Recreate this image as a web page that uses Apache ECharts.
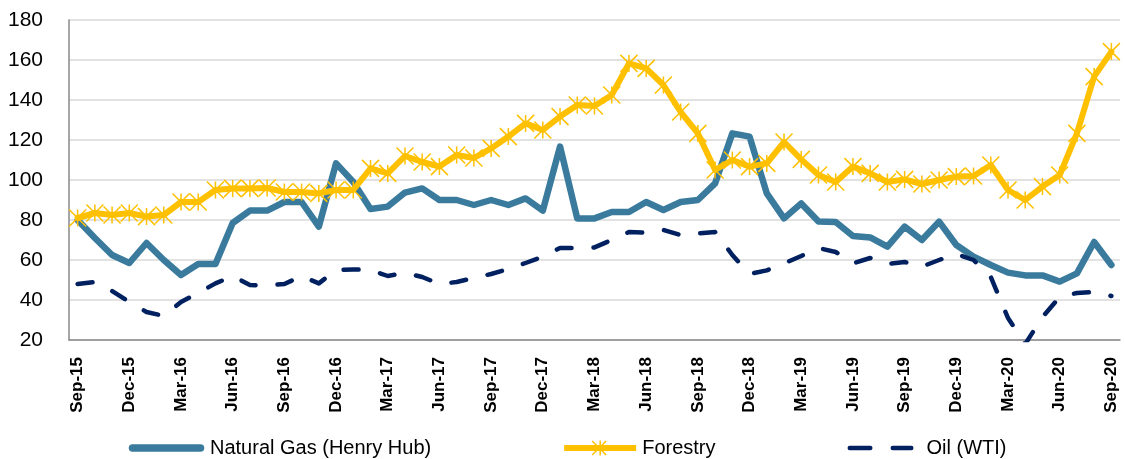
<!DOCTYPE html>
<html>
<head>
<meta charset="utf-8">
<script src="https://cdn.jsdelivr.net/npm/echarts/dist/echarts.min.js"></script>
<style>
  html, body { margin: 0; padding: 0; background: #fff; }
  #chart { width: 1125px; height: 459px; }
</style>
</head>
<body>
<div id="chart"></div>
<script>
// monthly points, Sep-15 .. Sep-20
var months = [
  'Sep-15','Oct-15','Nov-15','Dec-15','Jan-16','Feb-16','Mar-16','Apr-16','May-16','Jun-16','Jul-16','Aug-16',
  'Sep-16','Oct-16','Nov-16','Dec-16','Jan-17','Feb-17','Mar-17','Apr-17','May-17','Jun-17','Jul-17','Aug-17',
  'Sep-17','Oct-17','Nov-17','Dec-17','Jan-18','Feb-18','Mar-18','Apr-18','May-18','Jun-18','Jul-18','Aug-18',
  'Sep-18','Oct-18','Nov-18','Dec-18','Jan-19','Feb-19','Mar-19','Apr-19','May-19','Jun-19','Jul-19','Aug-19',
  'Sep-19','Oct-19','Nov-19','Dec-19','Jan-20','Feb-20','Mar-20','Apr-20','May-20','Jun-20','Jul-20','Aug-20',
  'Sep-20'
];

var naturalGas = [
  80, 71, 62.5, 58.5, 68.5, 60, 52.5, 58, 58, 78.5,
  84.7, 84.7, 89, 89, 76.7, 108.3, 99, 85.5, 86.7, 93.7,
  95.8, 90, 90, 87.5, 90, 87.5, 90.8, 84.7, 116.7, 80.8,
  80.8, 84, 84, 89, 85, 89, 90, 98.3, 123.3, 121.7,
  93.3, 80.8, 88.3, 79.2, 79, 72, 71.3, 66.7, 76.7, 70,
  79.2, 67.5, 61.7, 57.5, 53.7, 52.3, 52.3, 49.2, 53.3, 69, 57.5
];

var forestry = [
  81, 83.5, 82.5, 83.5, 81.7, 82.5, 89, 89, 95, 95.8,
  95.8, 96, 94, 94, 93.3, 95, 95, 105.8, 103.3, 112,
  109, 106.7, 112.5, 111, 115.8, 121.7, 128.3, 125, 131.7, 137.5,
  137, 142.5, 158.3, 155.8, 147.5, 134, 123.3, 105, 110, 106.7,
  108.3, 119, 110.3, 102.5, 99, 106.7, 103.3, 99, 100.3, 98,
  100, 101.7, 102, 107.5, 95, 90, 96.7, 102.5, 123.3, 151.7, 164.2
];

var oilWti = [
  48, 49, 44.5, 39, 34, 32, 39, 43.5, 48.3, 52,
  47.5, 47.3, 48, 52, 48.3, 55, 55.3, 55, 52, 53.5,
  51.5, 48, 49, 51, 53, 55.5, 58.5, 61.7, 66, 66,
  66.3, 70, 74, 73.7, 75, 72.5, 73.3, 74, 62.5, 53,
  54.8, 58.3, 62, 66, 64, 58.3, 61, 58, 59, 56.7,
  60, 63, 60, 51.5, 31, 18, 31.5, 41.5, 43.5, 44, 42
];

var seriesNames = ['Natural Gas (Henry Hub)', 'Forestry', 'Oil (WTI)'];

// asterisk marker like the Excel "*" point
var starPath = 'path://M0,0L16,16M16,0L0,16M8,0L8,16';

// legend icons, all drawn in a 77x17 box (corner anchors keep the box size)
var box = 'M0,0L0,0M77,17L77,17';
var gasIcon = 'path://' + box +
    'M4.5,4.75H72.5A3.75,3.75,0,0,1,72.5,12.25H4.5A3.75,3.75,0,0,1,4.5,4.75Z';
var forestryIcon = 'path://' + box +
    'M4,5.5H76V11.5H4Z' +
    'M39.25,1H40.75V16H39.25Z' +
    'M31.5,2L32.5,1L46.5,15L45.5,16Z' +
    'M45.5,1L46.5,2L32.5,16L31.5,15Z';
var oilIcon = 'path://' + box +
    'M5.25,6.25H25.75A2.25,2.25,0,0,1,25.75,10.75H5.25A2.25,2.25,0,0,1,5.25,6.25Z' +
    'M48.25,6.25H66.75A2.25,2.25,0,0,1,66.75,10.75H48.25A2.25,2.25,0,0,1,48.25,6.25Z';

var myChart = echarts.init(document.getElementById('chart'));
myChart.setOption({
    animation: false,
    grid: {
        left: 69,
        right: 5,
        top: 20,
        bottom: 119
    },
    legend: {
        data: [
            {name: seriesNames[0], icon: gasIcon},
            {name: seriesNames[1], icon: forestryIcon},
            {name: seriesNames[2], icon: oilIcon}
        ],
        left: 123,
        top: 433,
        itemGap: 129,
        itemWidth: 77,
        itemHeight: 17,
        itemStyle: {borderWidth: 0},
        textStyle: {
            fontFamily: 'Liberation Sans',
            fontSize: 20,
            color: '#000'
        }
    },
    xAxis: {
        type: 'category',
        data: months,
        boundaryGap: true,
        axisLine: {lineStyle: {color: '#898989', width: 1.5}},
        axisTick: {show: false},
        axisLabel: {
            interval: 2,
            rotate: 90,
            margin: 17,
            fontFamily: 'Liberation Sans',
            fontWeight: 'bold',
            fontSize: 17,
            color: '#000'
        }
    },
    yAxis: {
        type: 'value',
        min: 20,
        max: 180,
        interval: 20,
        axisLine: {show: true, lineStyle: {color: '#898989', width: 1.5}},
        axisTick: {show: false},
        splitLine: {lineStyle: {color: '#D9D9D9', width: 1.5}},
        axisLabel: {
            margin: 26,
            fontFamily: 'Liberation Sans',
            fontSize: 21,
            color: '#000'
        }
    },
    series: [
        {
            name: seriesNames[0],
            type: 'line',
            data: naturalGas,
            symbol: 'none',
            color: '#3A7B9D',
            lineStyle: {width: 6.5, cap: 'round', join: 'round'}
        },
        {
            name: seriesNames[1],
            type: 'line',
            data: forestry,
            symbol: starPath,
            symbolSize: 17,
            showAllSymbol: true,
            color: '#FFC000',
            itemStyle: {color: '#FFC000', borderColor: '#FFC000', borderWidth: 1.5},
            lineStyle: {width: 6, cap: 'round', join: 'round'}
        },
        {
            name: seriesNames[2],
            type: 'line',
            data: oilWti,
            symbol: 'none',
            color: '#002060',
            lineStyle: {width: 4.5, type: [15, 22], cap: 'round', join: 'round'}
        }
    ]
});
</script>
</body>
</html>
